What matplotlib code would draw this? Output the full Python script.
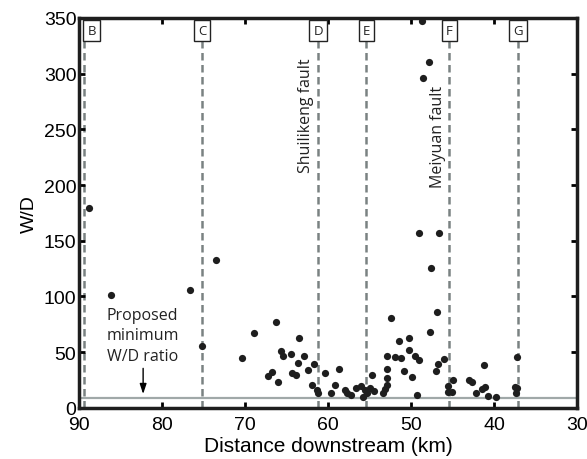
import matplotlib
matplotlib.use("Agg")
import matplotlib.pyplot as plt
import numpy as np

# distance downstream (km) and W/D ratio of each measured cross-section
dist_km = [88.8, 86.2, 76.7, 73.5, 75.2, 68.9, 70.4,
           66.3, 67.2, 66.8, 66.0, 65.7, 65.5, 64.5, 63.5, 64.3, 63.9, 63.6,
           62.9, 62.4, 61.7, 61.9, 61.4, 61.2, 60.4, 58.7, 59.2, 59.6, 58.0,
           57.7, 57.3, 56.6, 56.0, 55.6, 55.0, 55.8, 55.3, 54.5, 54.7, 53.4,
           52.9, 52.9, 52.9, 52.9, 53.1, 52.4, 51.9, 51.2, 51.4, 50.3, 50.2,
           49.5, 49.1, 50.8, 49.9, 49.3, 47.7, 46.9, 47.55, 49.0, 46.6, 48.7,
           47.8, 48.6, 46.0, 46.7, 47.0,
           45.0, 45.5, 45.5, 45.1, 43.0, 42.7, 41.2, 41.1, 41.5, 42.2, 40.7,
           39.8, 37.2, 37.5, 37.2, 37.3]
wd_ratio = [179, 101, 106, 133, 56, 67, 45,
            77, 29, 32, 23, 51, 47, 48, 63, 31, 30, 40,
            47, 34, 39, 21, 16, 13, 31, 35, 21, 13, 16,
            13, 12, 18, 20, 16, 18, 10, 13, 15, 30, 13,
            46.5, 35, 26.5, 21, 17, 81, 45.7, 44.8, 59.7, 63, 52.3,
            46.6, 43.2, 33, 27.7, 12, 68, 86, 125.5, 157, 157, 347,
            310, 296, 44, 39, 33.3,
            25.5, 20, 14.7, 14.1, 25.5, 23.3, 38.7, 18.6, 17, 13.5, 11,
            10, 45.5, 18.6, 17.7, 13.5]

# reach boundaries (dashed lines) and their labels
section_km = [89.4, 75.2, 61.2, 55.4, 45.4, 37.1]
section_names = ["B", "C", "D", "E", "F", "G"]
min_wd = 9  # proposed minimum W/D ratio

fig = plt.figure(figsize=(5.87, 4.6), dpi=100)
ax = fig.add_axes([0.135, 0.111, 0.848, 0.848])

tick_font = "Liberation Sans"
note_font = "Open Sans"
gray = "#7a8282"

# boundaries between reaches
for x in section_km:
    ax.axvline(x, color=gray, lw=1.8, ls=(0, (3, 1.8)), zorder=1)

# proposed minimum W/D ratio
ax.axhline(min_wd, color="#a0a8a8", lw=1.6, zorder=1)

ax.plot(dist_km, wd_ratio, "o", color="#1e1e1e", markersize=5.2,
        markeredgewidth=0, zorder=3)

# boxed letters on top of each dashed line (B is nudged in from the edge)
for x, name in zip(section_km, section_names):
    xt = 88.5 if name == "B" else x
    ax.text(xt, 339, name, ha="center", va="center", fontsize=9.5,
            family=note_font, color="#222222", zorder=4,
            bbox=dict(boxstyle="square,pad=0.3", fc="white", ec="#222222", lw=1))

ax.text(62.65, 263, "Shuilikeng fault", rotation=90, ha="center", va="center",
        fontsize=11.5, family=note_font, color="#222222")
ax.text(46.75, 244, "Meiyuan fault", rotation=90, ha="center", va="center",
        fontsize=11.5, family=note_font, color="#222222")
ax.text(86.7, 65, "Proposed\nminimum\nW/D ratio", ha="left", va="center",
        fontsize=11.5, family=note_font, color="#222222", linespacing=1.4)
ax.annotate("", xy=(82.3, 10), xytext=(82.3, 38),
            arrowprops=dict(arrowstyle="-|>,head_length=0.6,head_width=0.2",
                            color="black", lw=1))

ax.set_xlim(90, 30)
ax.set_ylim(0, 350)
ax.set_xticks(np.arange(90, 29, -10))
ax.set_yticks(np.arange(0, 351, 50))
ax.tick_params(direction="in", length=4, width=2, top=True, right=True,
               labelsize=14, pad=2)
ax.tick_params(axis="x", pad=6)
for lab in ax.get_xticklabels() + ax.get_yticklabels():
    lab.set_family(tick_font)
for sp in ax.spines.values():
    sp.set_linewidth(2.5)
    sp.set_color("#1e1e1e")

ax.set_xlabel("Distance downstream (km)", fontsize=15, family=tick_font, labelpad=2)
ax.set_ylabel("W/D", fontsize=14, family=tick_font, labelpad=4)

plt.savefig("out.png", dpi=100)
